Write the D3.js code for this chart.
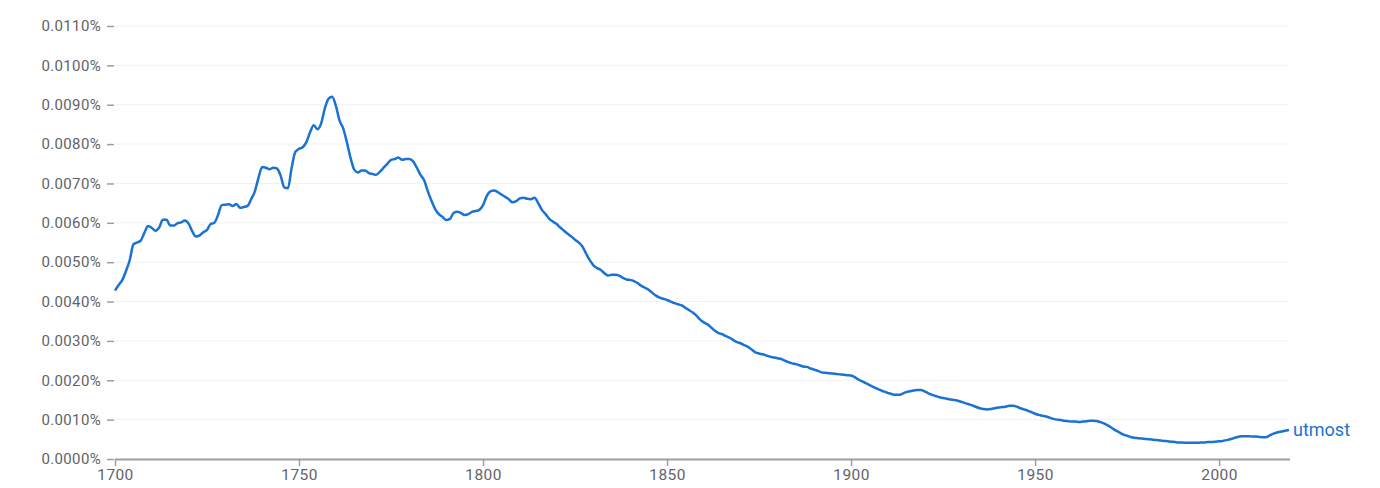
<!DOCTYPE html>
<html>
<head>
<meta charset="utf-8">
<script src="https://cdn.jsdelivr.net/npm/d3@7"></script>
<style>
  html, body { margin: 0; padding: 0; background: #fff; }
  svg { display: block; }
  text { font-family: Roboto, "Noto Sans", sans-serif; }
</style>
</head>
<body>
<svg id="chart" width="1380" height="488"></svg>
<script>
// ---- data (values in thousandths of a percent, one per year from 1700) ----
const startYear = 1700;
const endYear = 2019;
const seriesName = "utmost";
const values = [
  4.28,4.42,4.55,4.78,5.05,5.45,5.50,5.55,5.75,5.92, // 1700s
  5.87,5.80,5.88,6.08,6.08,5.93,5.93,5.99,6.01,6.06, // 1710s
  5.98,5.78,5.65,5.68,5.76,5.82,5.97,6.00,6.20,6.45, // 1720s
  6.46,6.47,6.43,6.48,6.38,6.40,6.43,6.60,6.80,7.15, // 1730s
  7.42,7.40,7.36,7.40,7.38,7.20,6.90,6.88,7.40,7.80, // 1740s
  7.88,7.92,8.05,8.30,8.48,8.38,8.52,8.90,9.15,9.20, // 1750s
  8.98,8.60,8.40,8.05,7.65,7.35,7.28,7.33,7.33,7.26, // 1760s
  7.24,7.22,7.30,7.40,7.50,7.60,7.62,7.66,7.60,7.62, // 1770s
  7.62,7.56,7.40,7.22,7.08,6.80,6.56,6.35,6.22,6.15, // 1780s
  6.07,6.10,6.25,6.28,6.25,6.20,6.22,6.28,6.30,6.33, // 1790s
  6.45,6.68,6.80,6.82,6.78,6.72,6.66,6.60,6.52,6.55, // 1800s
  6.62,6.64,6.61,6.60,6.64,6.50,6.33,6.22,6.10,6.03, // 1810s
  5.97,5.88,5.80,5.72,5.65,5.57,5.50,5.40,5.22,5.05, // 1820s
  4.92,4.85,4.80,4.72,4.66,4.68,4.68,4.66,4.60,4.56, // 1830s
  4.55,4.52,4.47,4.40,4.35,4.30,4.22,4.15,4.10,4.07, // 1840s
  4.04,4.00,3.96,3.93,3.90,3.84,3.78,3.72,3.64,3.54, // 1850s
  3.47,3.42,3.34,3.26,3.20,3.17,3.12,3.08,3.02,2.97, // 1860s
  2.94,2.89,2.85,2.78,2.71,2.68,2.66,2.63,2.60,2.58, // 1870s
  2.56,2.54,2.50,2.46,2.43,2.41,2.38,2.35,2.34,2.30, // 1880s
  2.27,2.24,2.20,2.19,2.18,2.17,2.16,2.15,2.14,2.13, // 1890s
  2.12,2.08,2.02,1.97,1.93,1.88,1.83,1.79,1.75,1.71, // 1900s
  1.68,1.65,1.63,1.63,1.66,1.70,1.72,1.74,1.75,1.75, // 1910s
  1.72,1.67,1.63,1.60,1.57,1.55,1.53,1.51,1.50,1.48, // 1920s
  1.45,1.42,1.39,1.36,1.32,1.29,1.27,1.26,1.27,1.29, // 1930s
  1.31,1.32,1.33,1.35,1.35,1.33,1.29,1.26,1.23,1.19, // 1940s
  1.15,1.12,1.10,1.08,1.05,1.02,1.00,0.99,0.97,0.96, // 1950s
  0.95,0.95,0.94,0.95,0.96,0.97,0.97,0.96,0.93,0.89, // 1960s
  0.84,0.78,0.72,0.67,0.62,0.59,0.56,0.54,0.53,0.52, // 1970s
  0.51,0.50,0.49,0.48,0.47,0.46,0.45,0.44,0.43,0.42, // 1980s
  0.42,0.41,0.41,0.41,0.41,0.42,0.42,0.43,0.43,0.44, // 1990s
  0.45,0.46,0.48,0.50,0.53,0.56,0.58,0.58,0.58,0.57, // 2000s
  0.57,0.56,0.55,0.56,0.61,0.65,0.68,0.70,0.72,0.74  // 2010s
];
const yTickValues = [0,1,2,3,4,5,6,7,8,9,10,11];
const yTickLabels = ["0.0000%","0.0010%","0.0020%","0.0030%","0.0040%","0.0050%",
                     "0.0060%","0.0070%","0.0080%","0.0090%","0.0100%","0.0110%"];
const xTickValues = [1700,1750,1800,1850,1900,1950,2000];

// ---- layout ----
const svg = d3.select("#chart");
const plotLeft = 115, plotRight = 1289, plotTop = 26, plotBottom = 459;
const lineColor = "#1a73d2";

const x = d3.scaleLinear().domain([startYear, endYear]).range([plotLeft, plotRight]);
const y = d3.scaleLinear().domain([0, 11]).range([plotBottom, plotTop]);

const data = values.map((v, i) => ({year: startYear + i, value: v}));

// gridlines
svg.append("g")
  .selectAll("line")
  .data(yTickValues.filter(v => v > 0))
  .join("line")
  .attr("x1", plotLeft).attr("x2", plotRight)
  .attr("y1", d => y(d)).attr("y2", d => y(d))
  .attr("stroke", "#f1f1f1").attr("stroke-width", 1);

// y axis
const yAxis = d3.axisLeft(y)
  .tickValues(yTickValues)
  .tickFormat((d, i) => yTickLabels[i])
  .tickSize(7).tickPadding(6);
const gy = svg.append("g").attr("transform", `translate(${plotLeft - 1},0)`).call(yAxis);
gy.select(".domain").remove();
gy.selectAll(".tick line").attr("stroke", "#9e9e9e").attr("stroke-width", 1.5);
gy.selectAll(".tick text")
  .attr("fill", "#5f6368").style("font-size", "15px").style("letter-spacing", "0.35px")
  .style("font-family", "Roboto, sans-serif");

// x axis
const xAxis = d3.axisBottom(x)
  .tickValues(xTickValues)
  .tickFormat(d3.format("d"))
  .tickSize(7).tickPadding(3).tickSizeOuter(0);
const gx = svg.append("g").attr("transform", `translate(0,${plotBottom})`).call(xAxis);
gx.select(".domain").attr("stroke", "#9e9e9e").attr("stroke-width", 2)
  .attr("d", `M${plotLeft},0.5H${plotRight + 1}`);
gx.selectAll(".tick line").attr("stroke", "#9e9e9e").attr("stroke-width", 1.5);
gx.selectAll(".tick text")
  .attr("fill", "#5f6368").style("font-size", "15.5px").style("letter-spacing", "0.4px")
  .style("font-family", "Roboto, sans-serif");

// line
const line = d3.line()
  .x(d => x(d.year))
  .y(d => y(d.value))
  .curve(d3.curveMonotoneX);

svg.append("path")
  .datum(data)
  .attr("d", line)
  .attr("fill", "none")
  .attr("stroke", lineColor)
  .attr("stroke-width", 2.5)
  .attr("stroke-linejoin", "round");

// series label
const last = data[data.length - 1];
svg.append("text")
  .attr("x", x(last.year) + 4)
  .attr("y", y(last.value) + 1)
  .attr("dominant-baseline", "middle")
  .attr("fill", lineColor)
  .style("font-size", "18px")
  .text(seriesName);
</script>
</body>
</html>
